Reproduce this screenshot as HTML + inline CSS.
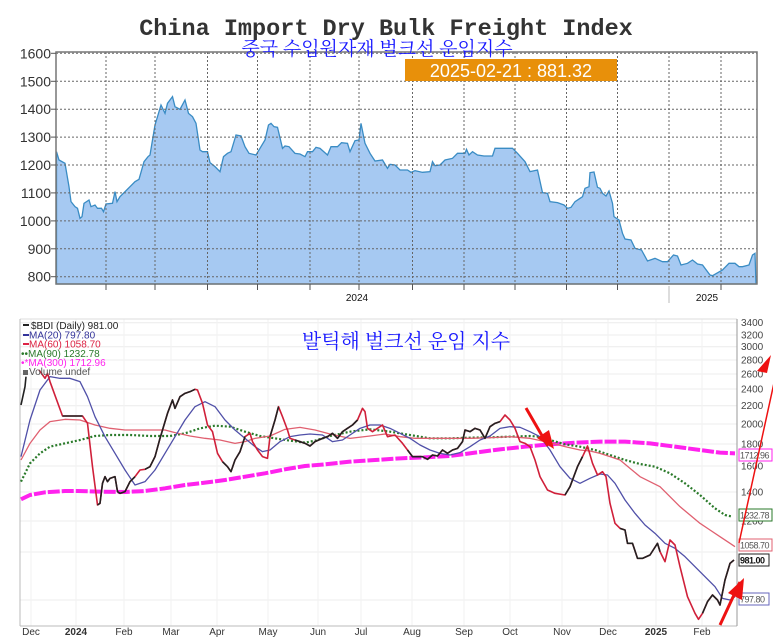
<!DOCTYPE html>
<html><head><meta charset="utf-8"><style>
html,body{margin:0;padding:0;background:#fff;width:773px;height:644px;overflow:hidden}
svg{display:block;font-family:"Liberation Sans","NanumGothic",sans-serif}
</style></head><body>
<svg width="773" height="644" xmlns="http://www.w3.org/2000/svg">
<rect width="773" height="644" fill="#fff"/>
<!-- TOP CHART -->
<g transform="scale(0.5 0.333333)">
<path fill="#a6c9f2" stroke="#3a8cc4" stroke-width="1.3" vector-effect="non-scaling-stroke" d="M113 455 118 480 130 490 138 560 142 605 150 620 155 625 160 655 164 650 168 610 178 600 182 620 190 615 195 625 203 625 207 635 212 612 225 610 230 575 234 605 240 590 250 575 260 560 270 545 278 538 288 485 296 470 300 465 310 375 322 315 330 340 335 310 345 290 350 320 360 328 370 300 377 340 385 350 392 370 400 450 405 455 415 455 420 488 430 500 440 515 447 470 455 460 462 455 472 405 482 408 490 440 498 460 512 465 520 445 530 420 537 375 542 370 548 380 555 382 565 445 570 438 578 440 590 460 600 462 610 470 615 455 625 455 632 442 640 445 655 465 662 440 675 440 683 428 695 430 700 455 710 422 718 420 722 370 730 430 740 460 750 483 765 480 775 505 780 493 790 495 800 510 815 510 822 517 830 512 845 517 860 515 865 485 870 497 880 495 890 480 905 475 915 460 930 460 933 448 938 465 945 455 955 465 968 468 985 468 990 445 1025 445 1035 460 1050 485 1060 515 1075 510 1085 578 1095 580 1100 605 1115 608 1128 615 1135 625 1142 622 1150 605 1165 590 1170 565 1178 560 1180 518 1188 516 1195 562 1200 565 1205 580 1212 588 1218 573 1225 610 1228 650 1238 660 1245 700 1250 717 1262 720 1270 745 1283 750 1295 783 1310 775 1325 785 1335 785 1347 765 1355 768 1362 795 1375 790 1385 780 1395 792 1405 795 1420 825 1425 827 1445 810 1458 790 1470 790 1478 800 1485 800 1498 795 1505 765 1510 760 1512 852 113 852Z"/>
</g>
<g stroke="#666" stroke-width="1" stroke-dasharray="2,2" fill="none">
<line x1="56" x2="757" y1="276.7" y2="276.7"/><line x1="56" x2="757" y1="248.8" y2="248.8"/><line x1="56" x2="757" y1="220.9" y2="220.9"/><line x1="56" x2="757" y1="192.9" y2="192.9"/><line x1="56" x2="757" y1="165" y2="165"/><line x1="56" x2="757" y1="137.1" y2="137.1"/><line x1="56" x2="757" y1="109.2" y2="109.2"/><line x1="56" x2="757" y1="81.3" y2="81.3"/><line x1="56" x2="757" y1="53.3" y2="53.3"/>
<line x1="106" x2="106" y1="52" y2="284"/><line x1="155" x2="155" y1="52" y2="284"/><line x1="207.5" x2="207.5" y1="52" y2="284"/><line x1="257.5" x2="257.5" y1="52" y2="284"/><line x1="310" x2="310" y1="52" y2="284"/><line x1="359" x2="359" y1="52" y2="284"/><line x1="412.5" x2="412.5" y1="52" y2="284"/><line x1="464" x2="464" y1="52" y2="284"/><line x1="515" x2="515" y1="52" y2="284"/><line x1="566.5" x2="566.5" y1="52" y2="284"/><line x1="617.5" x2="617.5" y1="52" y2="284"/><line x1="669" x2="669" y1="52" y2="284"/><line x1="721" x2="721" y1="52" y2="284"/>
</g>
<rect x="56" y="52" width="701" height="232" fill="none" stroke="#777" stroke-width="1.5"/>
<g font-size="14" fill="#333" text-anchor="end">
<text x="51" y="281.7">800</text><text x="51" y="253.8">900</text><text x="51" y="225.9">1000</text><text x="51" y="197.9">1100</text><text x="51" y="170">1200</text><text x="51" y="142.1">1300</text><text x="51" y="114.2">1400</text><text x="51" y="86.3">1500</text><text x="51" y="58.3">1600</text>
</g>
<g stroke="#555" stroke-width="1">
<line x1="51" x2="56" y1="276.7" y2="276.7"/><line x1="51" x2="56" y1="248.8" y2="248.8"/><line x1="51" x2="56" y1="220.9" y2="220.9"/><line x1="51" x2="56" y1="192.9" y2="192.9"/><line x1="51" x2="56" y1="165" y2="165"/><line x1="51" x2="56" y1="137.1" y2="137.1"/><line x1="51" x2="56" y1="109.2" y2="109.2"/><line x1="51" x2="56" y1="81.3" y2="81.3"/><line x1="51" x2="56" y1="53.3" y2="53.3"/>
<line x1="106" x2="106" y1="284" y2="290"/><line x1="155" x2="155" y1="284" y2="290"/><line x1="207.5" x2="207.5" y1="284" y2="290"/><line x1="257.5" x2="257.5" y1="284" y2="290"/><line x1="310" x2="310" y1="284" y2="290"/><line x1="359" x2="359" y1="284" y2="290"/><line x1="412.5" x2="412.5" y1="284" y2="290"/><line x1="464" x2="464" y1="284" y2="290"/><line x1="515" x2="515" y1="284" y2="290"/><line x1="566.5" x2="566.5" y1="284" y2="290"/><line x1="617.5" x2="617.5" y1="284" y2="290"/><line x1="721" x2="721" y1="284" y2="290"/>
</g>
<line x1="669" y1="286" x2="669" y2="303" stroke="#bbb"/>
<text x="357" y="301" font-size="10" fill="#111" text-anchor="middle">2024</text>
<text x="707" y="301" font-size="10" fill="#111" text-anchor="middle">2025</text>
<text x="386" y="35" style="font-family:'Liberation Mono',monospace;font-weight:bold;font-size:23.5px" fill="#333" text-anchor="middle">China Import Dry Bulk Freight Index</text>
<text x="377" y="55" style="font-family:'Liberation Serif','Noto Serif CJK SC',serif;font-size:19px" fill="#1a1aff" text-anchor="middle">중국 수입원자재 벌크선 운임지수</text>
<rect x="405" y="59" width="212" height="22" fill="#e8900a"/>
<text x="511" y="77" font-size="18" fill="#fff" text-anchor="middle">2025-02-21 : 881.32</text>

<!-- BOTTOM CHART -->
<g stroke="#ececec" stroke-width="1">
<line x1="20" x2="737" y1="322.7" y2="322.7"/><line x1="20" x2="737" y1="335" y2="335"/><line x1="20" x2="737" y1="346.7" y2="346.7"/><line x1="20" x2="737" y1="360" y2="360"/><line x1="20" x2="737" y1="374" y2="374"/><line x1="20" x2="737" y1="389" y2="389"/><line x1="20" x2="737" y1="405.7" y2="405.7"/><line x1="20" x2="737" y1="424" y2="424"/><line x1="20" x2="737" y1="444" y2="444"/><line x1="20" x2="737" y1="466" y2="466"/><line x1="20" x2="737" y1="492" y2="492"/><line x1="20" x2="737" y1="521" y2="521"/><line x1="20" x2="737" y1="552" y2="552"/><line x1="20" x2="737" y1="600" y2="600"/>
</g>
<g stroke="#f2f2f2" stroke-width="1">
<line x1="31" x2="31" y1="319" y2="626"/><line x1="76" x2="76" y1="319" y2="626"/><line x1="124" x2="124" y1="319" y2="626"/><line x1="171" x2="171" y1="319" y2="626"/><line x1="217" x2="217" y1="319" y2="626"/><line x1="268" x2="268" y1="319" y2="626"/><line x1="318" x2="318" y1="319" y2="626"/><line x1="361" x2="361" y1="319" y2="626"/><line x1="412" x2="412" y1="319" y2="626"/><line x1="464" x2="464" y1="319" y2="626"/><line x1="510" x2="510" y1="319" y2="626"/><line x1="562" x2="562" y1="319" y2="626"/><line x1="608" x2="608" y1="319" y2="626"/><line x1="656" x2="656" y1="319" y2="626"/><line x1="702" x2="702" y1="319" y2="626"/>
</g>
<line x1="20" y1="319" x2="737" y2="319" stroke="#ddd"/>
<line x1="20" y1="319" x2="20" y2="626" stroke="#bbb"/>
<line x1="20" y1="626" x2="737" y2="626" stroke="#bbb"/>
<line x1="737" y1="319" x2="737" y2="626" stroke="#999"/>
<g transform="translate(0 310) scale(0.5 0.333333)" fill="none" stroke-linejoin="round">
<path stroke="#ff22ee" stroke-width="4" stroke-dasharray="12,2" vector-effect="non-scaling-stroke" d="M42 568 60 555 90 547 130 543 155 543 200 545 250 546 290 543 330 535 370 525 410 518 450 510 490 500 530 490 570 478 610 468 650 463 700 455 750 450 800 445 850 442 900 438 950 428 1000 418 1050 410 1100 403 1150 398 1200 395 1250 395 1300 400 1350 410 1400 420 1440 428 1470 430"/>
<path stroke="#2a7a2a" stroke-width="2.2" stroke-dasharray="2,2" vector-effect="non-scaling-stroke" d="M42 515 60 460 80 430 100 410 130 400 160 390 190 378 220 375 260 375 300 378 340 378 370 370 400 355 430 347 460 350 490 365 520 378 550 385 580 392 610 398 630 392 660 378 700 365 740 358 780 365 820 375 860 385 900 385 940 383 980 382 1020 380 1060 378 1080 380 1100 390 1130 403 1160 410 1190 420 1220 435 1250 450 1280 462 1310 470 1340 490 1370 520 1400 555 1430 595 1450 615 1465 620"/>
<path stroke="#e06070" stroke-width="1.3" vector-effect="non-scaling-stroke" d="M42 450 60 400 80 360 100 335 130 328 160 330 190 345 220 355 250 360 290 360 330 360 350 368 380 378 410 385 440 390 470 400 490 395 510 385 540 378 570 358 600 352 630 360 660 372 700 385 740 378 770 372 800 380 830 385 860 385 900 385 940 385 980 383 1020 380 1060 385 1100 398 1130 410 1160 420 1180 423 1200 430 1220 440 1240 450 1260 475 1280 500 1300 515 1320 530 1340 560 1360 590 1380 615 1400 640 1420 660 1440 680 1460 700 1470 710"/>
<path stroke="#5050a8" stroke-width="1.3" vector-effect="non-scaling-stroke" d="M42 440 60 330 80 240 100 200 120 205 140 205 160 215 175 260 190 320 210 380 230 430 250 480 270 525 290 515 310 480 330 430 350 380 370 330 390 290 410 275 430 290 450 330 470 360 490 385 510 410 525 425 540 420 560 395 580 380 600 375 620 372 645 375 665 395 685 390 700 375 720 355 740 345 760 345 780 355 800 370 820 385 840 405 860 420 880 430 900 435 920 428 940 410 960 390 980 378 1000 355 1020 350 1040 352 1060 365 1080 380 1100 420 1120 470 1140 505 1160 520 1180 505 1200 492 1215 495 1230 520 1250 570 1270 610 1290 645 1310 670 1330 700 1350 715 1370 740 1390 770 1410 800 1430 830 1445 865 1460 870 1470 860"/>
<path stroke="#d0203a" stroke-width="1.6" vector-effect="non-scaling-stroke" d="M78 180 90 205 95 190 100 215 125 318 165 318 175 340 185 470 195 585 200 580 205 520 210 500 215 515 220 505 230 500 235 545 240 550 250 545 260 515 270 500 280 480 290 478 300 470 310 440 320 385 335 310 345 270 350 295 360 260 370 250 380 245 390 238 395 240 405 280 415 345 425 365 435 430 445 455 455 470 462 485 470 450 480 425 490 380 500 370 505 395 515 420 525 440 535 445 540 380 550 330 557 290 565 320 575 360 580 385 590 390 600 395 610 400 620 408 630 395 645 385 655 380 665 370 675 385 685 365 695 355 705 345 715 330 725 295 730 305 735 355 745 365 755 355 765 345 775 380 790 375 805 400 815 420 825 440 835 440 845 440 855 448 865 435 875 438 885 420 895 430 905 420 915 415 925 395 930 360 940 365 950 355 960 360 970 385 980 350 990 340 1000 335 1010 315 1020 330 1030 355 1040 395 1050 400 1060 410 1070 450 1080 500 1095 540 1110 550 1130 555 1140 530 1155 470 1165 440 1175 408 1185 460 1195 495 1205 485 1212 500 1220 580 1230 640 1240 655 1250 660 1255 700 1265 700 1275 745 1285 745 1300 735 1315 700 1320 725 1330 755 1340 690 1350 705 1360 770 1375 860 1390 910 1397 928 1405 910 1415 875 1425 855 1435 870 1440 885 1450 810 1460 760 1468 750"/>
<path stroke="#222" stroke-width="1.6" vector-effect="non-scaling-stroke" d="M42 285 50 230 52 200 M125 318 165 318 M195 585 200 580 205 520 210 500 215 515 220 505 230 500 235 545 240 550 250 545 260 515 270 500 M290 478 300 470 310 440 320 385 335 310 345 270 350 295 360 260 370 250 380 245 390 238 M445 455 455 470 462 485 470 450 480 425 490 380 M540 380 550 330 557 290 M590 390 600 395 610 400 620 408 630 395 645 385 655 380 665 370 675 385 685 365 695 355 705 345 715 330 M815 420 825 440 835 440 845 440 855 448 865 435 875 438 885 420 895 430 905 420 915 415 925 395 930 360 940 365 950 355 960 360 970 385 980 350 990 340 1000 335 M1130 555 1140 530 1155 470 1165 440 M1240 655 1250 660 1255 700 1265 700 1275 745 1285 745 1300 735 1315 700 1320 725 M1405 910 1415 875 1425 855 1435 870 1440 885 1450 810 1460 760 1468 750"/>
</g>
<g font-size="10" fill="#444">
<text x="741" y="326">3400</text><text x="741" y="338.5">3200</text><text x="741" y="350">3000</text><text x="741" y="363.5">2800</text><text x="741" y="377.5">2600</text><text x="741" y="392.5">2400</text><text x="741" y="409">2200</text><text x="741" y="427.5">2000</text><text x="741" y="447.5">1800</text><text x="741" y="469.5">1600</text><text x="741" y="495.5">1400</text><text x="741" y="524.5">1200</text>
</g>
<g font-size="10" fill="#333" text-anchor="middle">
<text x="31" y="635">Dec</text><text x="76" y="635" font-weight="bold">2024</text><text x="124" y="635">Feb</text><text x="171" y="635">Mar</text><text x="217" y="635">Apr</text><text x="268" y="635">May</text><text x="318" y="635">Jun</text><text x="361" y="635">Jul</text><text x="412" y="635">Aug</text><text x="464" y="635">Sep</text><text x="510" y="635">Oct</text><text x="562" y="635">Nov</text><text x="608" y="635">Dec</text><text x="656" y="635" font-weight="bold">2025</text><text x="702" y="635">Feb</text>
</g>
<g font-size="10">
<rect x="23" y="324" width="6" height="2" fill="#222"/><text x="31" y="329" fill="#222">$BDI (Daily) 981.00</text>
<rect x="23" y="334" width="6" height="2" fill="#33339a"/><text x="29" y="338.5" fill="#33339a">MA(20) 797.80</text>
<rect x="23" y="343" width="6" height="2" fill="#dd2244"/><text x="29" y="347.5" fill="#dd2244">MA(60) 1058.70</text>
<text x="21" y="357" fill="#2a7a2a">••MA(90) 1232.78</text>
<text x="21" y="366" fill="#ff22ee">•*MA(300) 1712.96</text>
<rect x="23" y="370" width="5" height="5" fill="#666"/><text x="29" y="375" fill="#555">Volume undef</text>
</g>
<text x="406" y="348" style="font-family:'Liberation Serif','Noto Serif CJK SC',serif;font-size:20px" fill="#1a1aff" text-anchor="middle">발틱해 벌크선 운임 지수</text>
<g font-size="9" letter-spacing="-0.5">
<rect x="739" y="449" width="33" height="12" fill="#fff" stroke="#ff22ee"/><text x="740" y="458.5" fill="#555">1712.96</text>
<rect x="739" y="509" width="33" height="12" fill="#fff" stroke="#2a7a2a"/><text x="740" y="518.5" fill="#555">1232.78</text>
<rect x="739" y="539" width="33" height="12" fill="#fff" stroke="#e06070"/><text x="740" y="548.5" fill="#555">1058.70</text>
<rect x="739" y="554" width="30" height="12" fill="#fff" stroke="#222"/><text x="740" y="563.5" fill="#111" font-weight="bold">981.00</text>
<rect x="739" y="593" width="30" height="12" fill="#fff" stroke="#6666bb"/><text x="740" y="602.5" fill="#555">797.80</text>
</g>
<g stroke="#ee1111" fill="#ee1111">
<line x1="526" y1="408" x2="548" y2="446" stroke-width="3"/>
<polygon points="554,449 537,438 549,430" stroke="none"/>
<line x1="720" y1="625" x2="740" y2="582" stroke-width="3"/>
<polygon points="744,578 742,600 728,593" stroke="none"/>
<line x1="739" y1="543" x2="779" y2="360" stroke-width="1.5"/>
<polygon points="771,355 767,373 757,371" stroke="none"/>
</g>
</svg>
</body></html>
